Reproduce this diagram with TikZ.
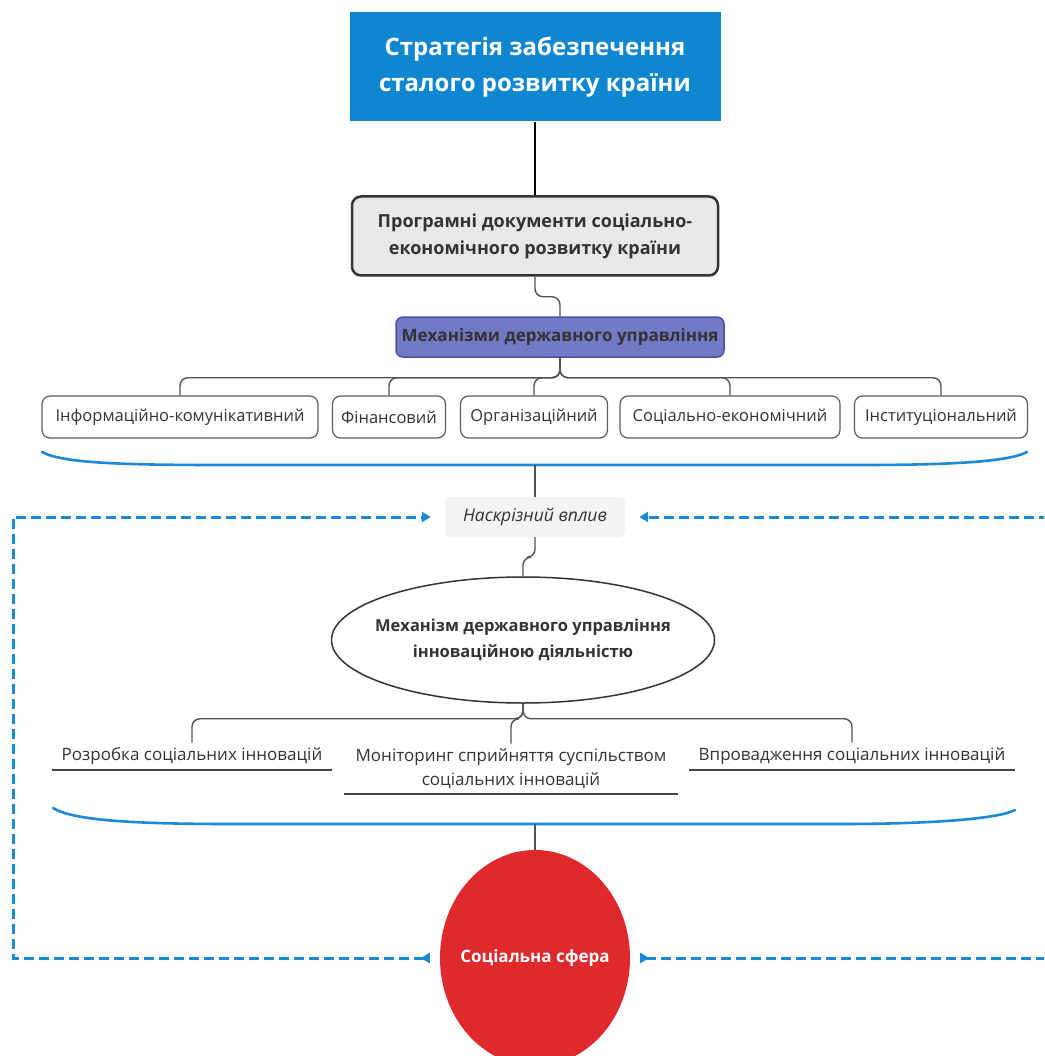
\documentclass[tikz,border=0pt]{standalone}
\usepackage{fontspec}
\setmainfont{Open Sans}
\usepackage{tikz}
\usetikzlibrary{arrows.meta,shapes.geometric}

\definecolor{stratblue}{HTML}{0F86D0}
\definecolor{docgray}{HTML}{E8E8E8}
\definecolor{mechviolet}{HTML}{7479C6}
\definecolor{mechedge}{HTML}{4B4F9E}
\definecolor{linkblue}{HTML}{1A8AD8}
\definecolor{spherered}{HTML}{E0292C}
\definecolor{txt}{HTML}{333333}
\definecolor{viagray}{HTML}{F3F3F3}

\begin{document}
\begin{tikzpicture}[x=1pt,y=-1pt,
		txt/.style={text=txt},
		branch/.style={draw=txt!85,line width=1.4pt,rounded corners=8pt},
		brace/.style={draw=linkblue,line width=2.6pt,line cap=round},
		relline/.style={draw=linkblue,line width=3pt,dash pattern=on 10pt off 5pt,
			{Triangle[reversed,length=9pt,width=10pt]}-{Triangle[length=9pt,width=10pt]}}]
		\clip (0,0) rectangle (1044,1056);

		\begin{scope}[every node/.style={align=center,inner sep=0pt}]
			\node[fill=stratblue,text=white,minimum width=371pt,minimum height=109pt,
				font=\bfseries\fontsize{24}{36}\selectfont] (strat) at (535,67)
				{Стратегія забезпечення\\сталого розвитку країни};

			\node[fill=docgray,draw=txt,line width=2.5pt,rounded corners=9pt,txt,
				minimum width=366pt,minimum height=79pt,
				font=\bfseries\fontsize{18}{27}\selectfont] (docs) at (535,236)
				{Програмні документи соціально-\\економічного розвитку країни};

			\node[fill=mechviolet,draw=mechedge,line width=1.5pt,rounded corners=7pt,
				minimum width=328pt,minimum height=40pt,text=black!80,
				font=\bfseries\fontsize{17}{20}\selectfont] (mech) at (560,337)
				{Механізми державного управління};
		\end{scope}

		\begin{scope}[every node/.style={draw=txt!80,line width=1.2pt,rounded corners=8pt,
				minimum height=42pt,inner sep=0pt,fill=white,txt,
				font=\fontsize{16.5}{20}\selectfont}]
			\node[minimum width=276pt] (info) at (180,417) {Інформаційно-комунікативний};
			\node[minimum width=113pt] (fin) at (389,417) {Фінансовий};
			\node[minimum width=147pt] (org) at (534,417) {Організаційний};
			\node[minimum width=220pt] (soc) at (730,417) {Соціально-економічний};
			\node[minimum width=173pt] (inst) at (941,417) {Інституціональний};
		\end{scope}

		\node[fill=viagray,rounded corners=5pt,minimum width=180pt,minimum height=40pt,
			inner sep=0pt,txt,font=\itshape\fontsize{17.5}{20}\selectfont] (via) at (535,517)
			{Наскрізний вплив};

		\node[ellipse,draw=txt,line width=1.5pt,minimum width=383pt,minimum height=126pt,
			inner xsep=-40pt,inner ysep=0pt,align=center,txt,
			font=\bfseries\fontsize{16.5}{26}\selectfont] (innov) at (523,640)
			{Механізм державного управління\\інноваційною діяльністю};

		\begin{scope}[every node/.style={align=center,inner xsep=0pt,inner ysep=5pt,txt,
				font=\fontsize{17}{24}\selectfont}]
			\node[anchor=south,minimum width=279pt] (dev) at (192,770) {Розробка соціальних інновацій};
			\node[anchor=south,minimum width=334pt] (mon) at (511,794)
				{Моніторинг сприйняття суспільством\\соціальних інновацій};
			\node[anchor=south,minimum width=325pt] (impl) at (852,770) {Впровадження соціальних інновацій};
		\end{scope}

		\node[ellipse,fill=spherered,text=white,minimum width=190pt,minimum height=216pt,
			inner xsep=-25pt,inner ysep=0pt,font=\bfseries\fontsize{17}{20}\selectfont] (sphere) at (535,958)
			{Соціальна сфера};

		% braces under the two rows
		\draw[brace] (42,452) .. controls (62,463) and (120,465) .. (220,465)
			-- (860,465) .. controls (960,465) and (1010,461) .. (1027,452);
		\coordinate (brace1) at (535,465);
		\draw[brace] (53,808) .. controls (72,820) and (130,824) .. (230,824)
			-- (840,824) .. controls (940,824) and (1000,818) .. (1015,810);
		\coordinate (brace2) at (535,824);

		\coordinate (cornerSW) at (13,958);
		\coordinate (cornerNW) at (13,517);
		\coordinate (cornerSE) at (1047,958);
		\coordinate (cornerNE) at (1047,517);

		\draw[txt,line width=2pt] (strat.south) -- (docs.north);
		\draw[branch] (docs.south) -- ++(0,20) -| (mech.north);
		\foreach \c in {info,fin,org,soc,inst}
			\draw[branch] (mech.south) -- ++(0,20) -| (\c.north);

		\draw[branch] (brace1) -- (via.north);
		\draw[branch] (via.south) -- ++(0,20) -| (innov.north);
		\foreach \c in {dev,mon,impl}
			\draw[branch] (innov.south) -- ++(0,15) -| (\c.north);
		\foreach \c in {dev,mon,impl}
			\draw[txt!90,line width=2.2pt] (\c.south west) -- (\c.south east);
		\draw[branch] (brace2) -- (sphere.north);

		\draw[relline,shorten <=10pt,shorten >=14pt] (sphere.west) -- (cornerSW) -- (cornerNW) -- (via.west);
		\draw[relline,shorten <=10pt,shorten >=14pt] (sphere.east) -- (cornerSE) -- (cornerNE) -- (via.east);
\end{tikzpicture}
\end{document}
